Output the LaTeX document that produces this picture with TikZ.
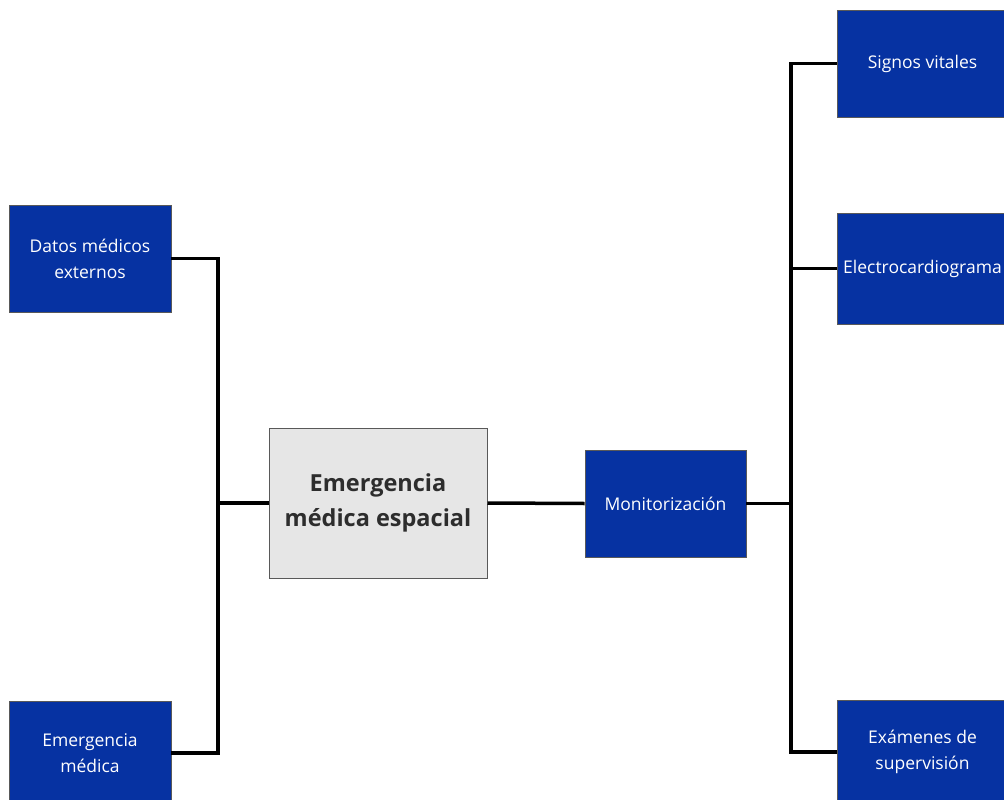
\documentclass[tikz,border=0pt]{standalone}
\usepackage{fontspec}
\setmainfont{Open Sans}
\definecolor{boxblue}{RGB}{6,50,162}
\definecolor{boxgray}{RGB}{230,230,230}
\definecolor{darktext}{RGB}{45,45,45}
\begin{document}
\begin{tikzpicture}[x=1pt,y=-1pt,
  bluebox/.style={draw=black!65, fill=boxblue, text=white, minimum width=162pt,
    minimum height=107pt, align=center, inner sep=0pt, line width=0.8pt,
    font=\fontsize{17.5}{26}\selectfont},
  mainbox/.style={draw=black!65, fill=boxgray, text=darktext, minimum width=218pt,
    minimum height=150pt, align=center, inner sep=0pt, line width=1pt,
    font=\fontsize{23.5}{35}\selectfont\bfseries},
  conn/.style={line width=3.5pt, line join=miter, draw=black}]
\useasboundingbox (0,0) rectangle (1004,800);
\node[bluebox] (datos) at (90,258.5) {Datos médicos\\externos};
\node[bluebox, minimum height=104pt] (emerg) at (90,753) {Emergencia\\médica};
\node[mainbox] (central) at (378,503) {Emergencia\\médica espacial};
\node[bluebox, minimum width=161pt] (monit) at (665.5,503.5) {Monitorización};
\node[bluebox, minimum width=171pt] (signos) at (922.5,63.5) {Signos vitales};
\node[bluebox, minimum width=171pt, minimum height=111pt] (ecg) at (922.5,268.5) {Electrocardiograma};
\node[bluebox, minimum width=171pt, minimum height=104pt] (exam) at (922.5,752) {Exámenes de\\supervisión};
\coordinate (lt) at (218,258.5);
\coordinate (lb) at (218,753);
\coordinate (rt) at (791,63.5);
\coordinate (rb) at (791,752);
\draw[conn] (datos.east) -- (lt) -- (lb) -- (emerg.east);
\draw[conn] (central.west) -- (central.west -| lt);
\draw[conn] (central.east) -- (monit.west);
\draw[conn] (signos.west) -- (rt) -- (rb) -- (exam.west);
\draw[conn] (ecg.west) -- (ecg.west -| rt);
\draw[conn] (monit.east) -- (monit.east -| rt);
\end{tikzpicture}
\end{document}
